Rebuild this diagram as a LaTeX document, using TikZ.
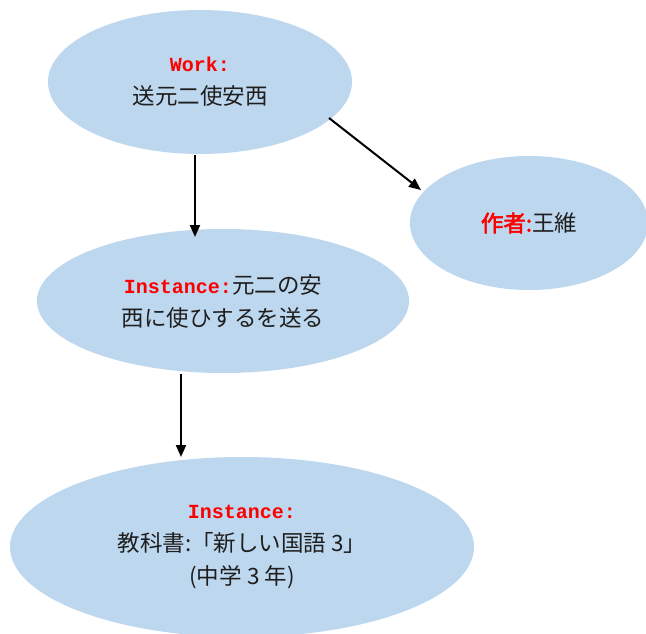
\documentclass[tikz,border=0pt]{standalone}
\usepackage{fontspec}
\usetikzlibrary{shapes.geometric,arrows.meta,calc}
\newfontfamily\jp{Noto Sans CJK JP}
\newfontfamily\jpb{Noto Sans CJK JP}[FakeBold=2.5]
\newfontfamily\mono{Liberation Mono}
\definecolor{ellfill}{RGB}{189,215,238}
\definecolor{txt}{RGB}{30,30,30}
\newcommand{\lab}[1]{{\mono\bfseries\fontsize{20}{33}\selectfont\color{red}#1}}
\tikzset{
  ell/.style={ellipse, fill=ellfill, inner sep=0pt, align=center, text=txt,
    font={\jp\fontsize{22.5}{33}\selectfont}},
  arr/.style={-{Triangle[length=12pt,width=10pt]}, line width=2pt, black}
}
\begin{document}
\begin{tikzpicture}[x=1pt,y=-1pt]
\useasboundingbox (0,0) rectangle (646,634);
\node[ell, minimum width=304pt, minimum height=144pt] (e1) at (200,82)
  {\lab{Work:}\\送元二使安西};
\node[ell, minimum width=238pt, minimum height=134pt] (e2) at (529,223)
  {{\jpb\color{red}作者:}王維};
\node[ell, minimum width=372pt, minimum height=144pt] (e3) at (223,301)
  {\lab{Instance:}元二の安\\西に使ひするを送る};
\node[ell, minimum width=464pt, minimum height=180pt] (e4) at (242,547)
  {\lab{Instance:}\\教科書:「新しい国語 3」\\(中学 3 年)};
\draw[arr] ($(e1.center)+(-5,73)$) -- ($(e3.center)+(-28,-64)$);
\draw[arr] ($(e1.center)+(129,36)$) -- ($(e2.center)+(-108,-33)$);
\draw[arr] ($(e3.center)+(-42,73)$) -- ($(e4.center)+(-61,-90)$);
\end{tikzpicture}
\end{document}
